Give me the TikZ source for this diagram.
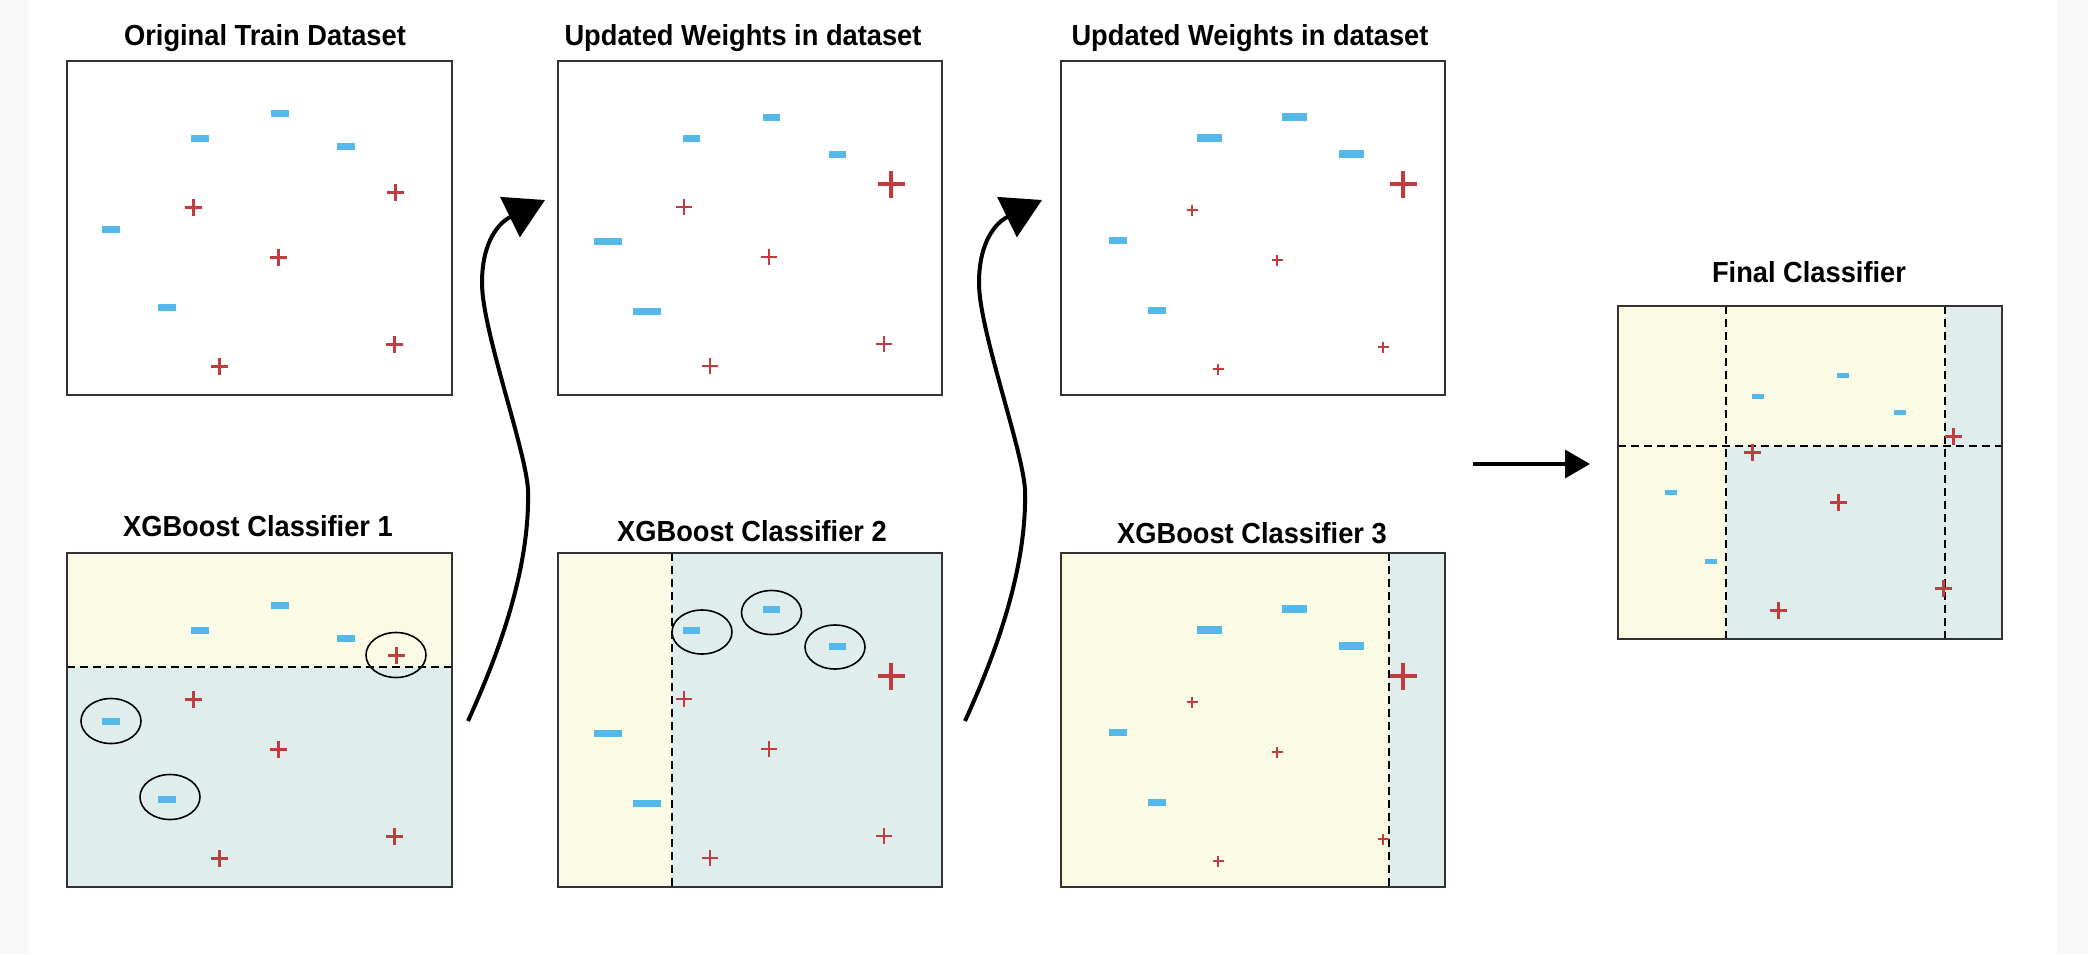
\documentclass[tikz,border=0pt]{standalone}
\usepackage{fontspec}
\setmainfont{Liberation Sans}[FakeStretch=0.94]
\usetikzlibrary{arrows.meta}
\definecolor{ybg}{RGB}{251,251,229}
\definecolor{bbg}{RGB}{223,237,236}
\definecolor{mblue}{RGB}{85,184,234}
\definecolor{plred}{RGB}{194,59,62}
\definecolor{bordc}{RGB}{51,51,51}
\definecolor{margc}{RGB}{248,248,248}
\tikzset{
  panelbox/.style={draw=bordc, line width=2.5pt},
  divider/.style={draw=black, line width=2pt, dash pattern=on 8pt off 5pt},
  ttl/.style={font=\fontsize{29}{30}\selectfont\bfseries, anchor=base, inner sep=0pt},
  pics/mn/.style args={#1/#2}{code={\fill[mblue] (-#1/2,-#2/2) rectangle (#1/2,#2/2);}},
  pics/pl/.style args={#1/#2}{code={\draw[plred, line width=#2pt] (-#1,0)--(#1,0) (0,-#1)--(0,#1);}},
  ring/.style={draw=black, line width=1.6pt},
  curvearrow/.style={line width=4pt, -{Triangle[length=39pt,width=44pt]}},
  flatarrow/.style={line width=3.3pt, -{Triangle[length=25pt,width=28pt]}},
}
\newcommand{\ptsA}{%
  \pic at (280,113) {mn=18/7}; \pic at (200,138) {mn=18/7}; \pic at (346,146) {mn=18/7};
  \pic at (111,229) {mn=18/7}; \pic at (167,307) {mn=18/7};
  \pic at (193,207) {pl=8.5/3}; \pic at (278,257) {pl=8.5/3};
  \pic at (394,344) {pl=8.5/3}; \pic at (219,366) {pl=8.5/3};}
\newcommand{\ptsB}{%
  \pic at (771,117) {mn=17/7}; \pic at (691,138) {mn=17/7}; \pic at (837,154) {mn=17/7};
  \pic at (608,241) {mn=28.5/7}; \pic at (647,311) {mn=28.5/7};
  \pic at (891,184) {pl=13.5/4.5};
  \pic at (684,207) {pl=8/2.8}; \pic at (769,257) {pl=8/2.8};
  \pic at (884,344) {pl=8/2.8}; \pic at (710,366) {pl=8/2.8};}
\newcommand{\ptsC}{%
  \pic at (1294,117) {mn=25/8.5}; \pic at (1209,138) {mn=25/8.5}; \pic at (1351,154) {mn=25/8.5};
  \pic at (1118,240) {mn=17.5/7}; \pic at (1157,310) {mn=17.5/7};
  \pic at (1403,184) {pl=13.5/4.5};
  \pic at (1192,210) {pl=5.5/2}; \pic at (1277,260) {pl=5.5/2};
  \pic at (1383,347) {pl=5.5/2}; \pic at (1218,369) {pl=5.5/2};}
\begin{document}
\begin{tikzpicture}[x=1pt,y=-1pt]
\useasboundingbox (0,0) rectangle (2088,954);
\fill[white] (0,0) rectangle (2088,954);
\fill[margc] (0,0) rectangle (29,954);
\fill[margc] (2057,0) rectangle (2088,954);

% titles
\node[ttl] (t1) at (265,45) {Original Train Dataset};
\node[ttl] (t2) at (743,45) {Updated Weights in dataset};
\node[ttl] (t3) at (1250,45) {Updated Weights in dataset};
\node[ttl] (t4) at (258,536) {XGBoost Classifier 1};
\node[ttl] (t5) at (752,541) {XGBoost Classifier 2};
\node[ttl] (t6) at (1252,543) {XGBoost Classifier 3};
\node[ttl] (t7) at (1809,282) {Final Classifier};

% region fills
\fill[ybg] (67,553) rectangle (452,667);
\fill[bbg] (67,667) rectangle (452,887);
\fill[ybg] (558,553) rectangle (672,887);
\fill[bbg] (672,553) rectangle (942,887);
\fill[ybg] (1061,553) rectangle (1389,887);
\fill[bbg] (1389,553) rectangle (1445,887);
\fill[ybg] (1618,306) rectangle (2002,639);
\fill[bbg] (1726,446) rectangle (1945,639);
\fill[bbg] (1945,306) rectangle (2002,639);

% split lines
\draw[divider] (67,667) -- (452,667);
\draw[divider] (672,553) -- (672,887);
\draw[divider] (1389,553) -- (1389,887);
\draw[divider] (1726,306) -- (1726,639);
\draw[divider] (1945,306) -- (1945,639);
\draw[divider] (1618,446) -- (2002,446);

% points
\ptsA \ptsB \ptsC
\pic at (395,192) {pl=8.5/3};
\begin{scope}[shift={(0,492)}]\ptsA \ptsB \ptsC\end{scope}
\pic at (396,655) {pl=8.5/3};
% final classifier points
\pic at (1843,375) {mn=12.5/5}; \pic at (1758,396) {mn=12.5/5}; \pic at (1900,412) {mn=12.5/5};
\pic at (1671,492) {mn=12.5/5}; \pic at (1711,561) {mn=12.5/5};
\pic at (1953,436) {pl=8.5/3}; \pic at (1752,452) {pl=8.5/3}; \pic at (1838,502) {pl=8.5/3};
\pic at (1943,588) {pl=8.5/3}; \pic at (1778,610) {pl=8.5/3};

% misclassified rings
\draw[ring] (396,655) ellipse [x radius=30, y radius=22.5];
\draw[ring] (111,721) ellipse [x radius=30, y radius=22.5];
\draw[ring] (170,797) ellipse [x radius=30, y radius=22.5];
\draw[ring] (702,632) ellipse [x radius=30, y radius=22];
\draw[ring] (771.5,612.5) ellipse [x radius=30, y radius=22];
\draw[ring] (835,647) ellipse [x radius=30, y radius=22];

% panel borders
\draw[panelbox] (67,61) rectangle (452,395);
\draw[panelbox] (558,61) rectangle (942,395);
\draw[panelbox] (1061,61) rectangle (1445,395);
\draw[panelbox] (67,553) rectangle (452,887);
\draw[panelbox] (558,553) rectangle (942,887);
\draw[panelbox] (1061,553) rectangle (1445,887);
\draw[panelbox] (1618,306) rectangle (2002,639);

% curved arrows
\coordinate (a1s) at (468,721);
\coordinate (a1b) at (528,490);
\coordinate (a1c) at (482,283);
\coordinate (a1e) at (545,200);
\draw[curvearrow] (a1s) .. controls +(30,-66) and +(2,80) .. (a1b)
  .. controls +(-2,-40) and +(0,47) .. (a1c)
  .. controls +(0,-43) and +(-45,22) .. (a1e);
\coordinate (a2s) at (965,721);
\coordinate (a2b) at (1025,490);
\coordinate (a2c) at (979,283);
\coordinate (a2e) at (1042,200);
\draw[curvearrow] (a2s) .. controls +(30,-66) and +(2,80) .. (a2b)
  .. controls +(-2,-40) and +(0,47) .. (a2c)
  .. controls +(0,-43) and +(-45,22) .. (a2e);

% arrow to final classifier
\coordinate (f1) at (1473,464);
\coordinate (f2) at (1590,464);
\draw[flatarrow] (f1) -- (f2);
\end{tikzpicture}
\end{document}
